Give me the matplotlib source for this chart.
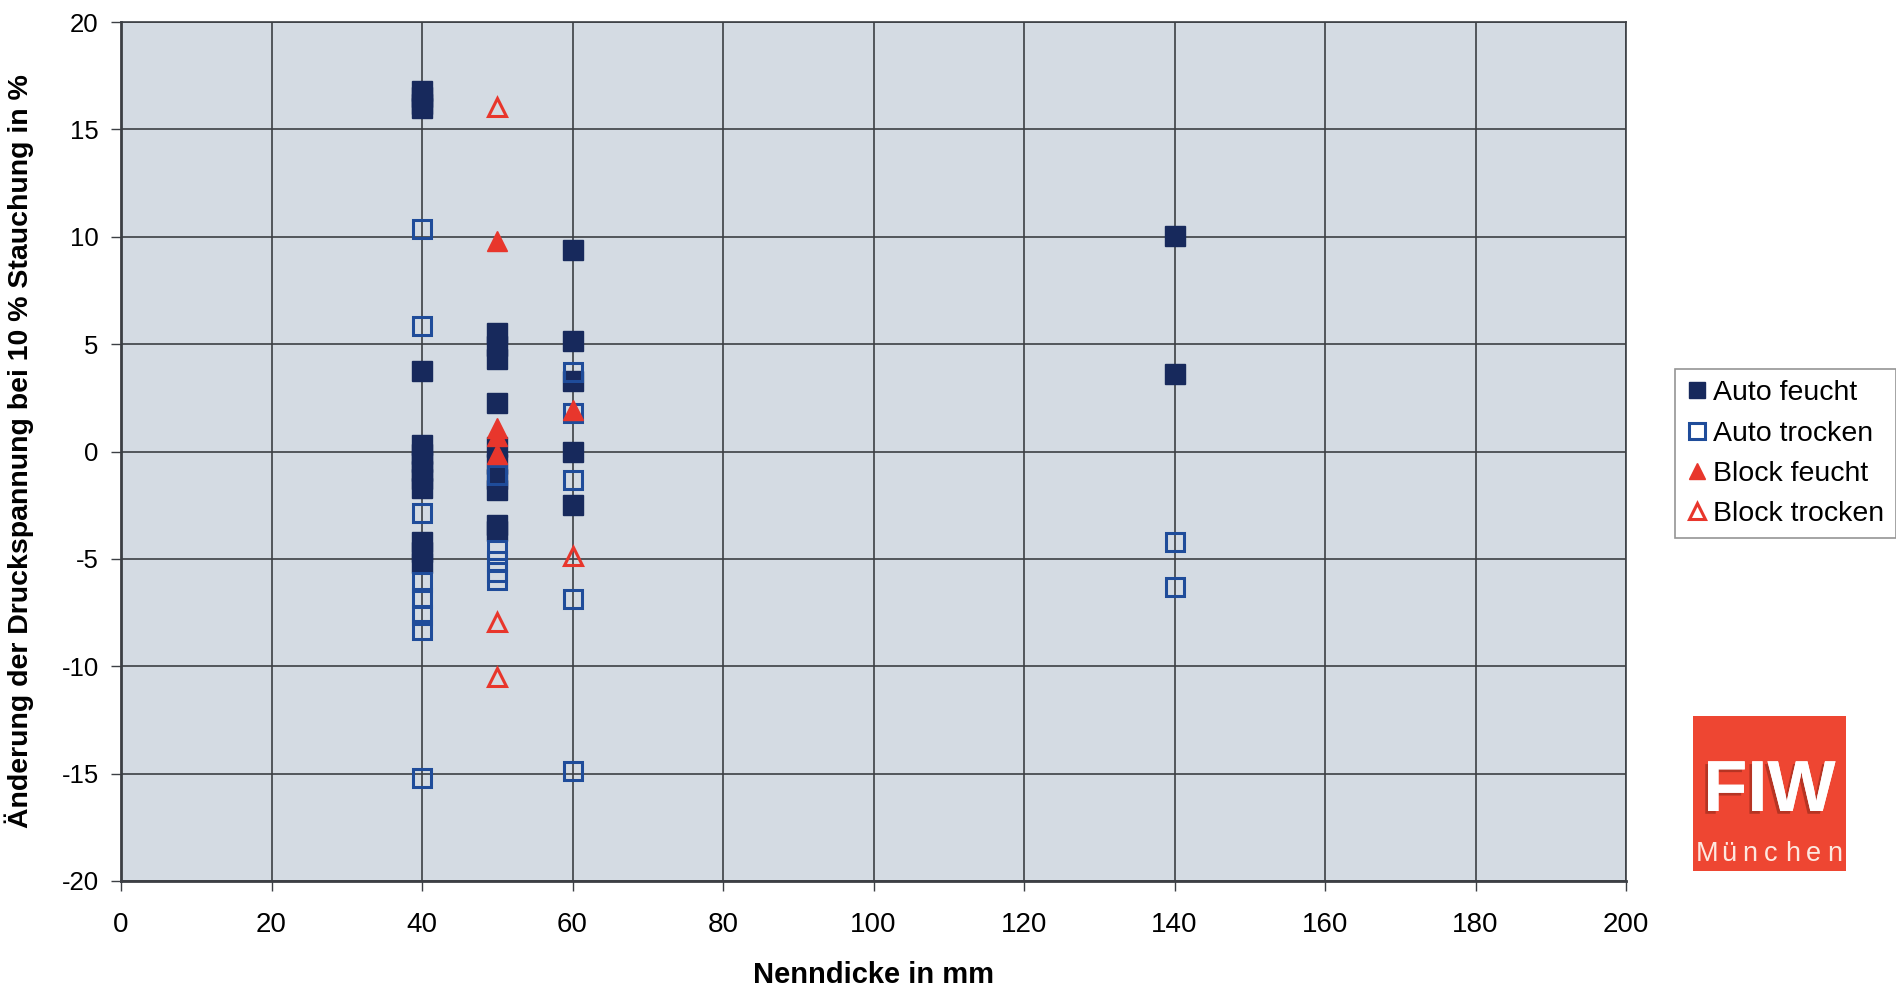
import matplotlib
matplotlib.use("Agg")
import matplotlib.pyplot as plt
from matplotlib.patches import Rectangle
import matplotlib.patheffects as pe

# Nenndicke (mm) and change of compressive stress at 10 % strain (%)
auto_feucht_x = [40, 40, 40, 40, 40, 40, 40, 40, 40, 40, 40, 40, 40, 40,
                 50, 50, 50, 50, 50, 50, 50, 50, 50, 50,
                 60, 60, 60, 60, 60,
                 140, 140]
auto_feucht_y = [16.8, 16.5, 16.2, 16.0, 3.75, 0.3, -0.1, -0.5, -0.9, -1.3, -1.7, -4.2, -4.7, -5.2,
                 5.5, 4.9, 4.3, 2.25, 0.2, -0.6, -1.3, -1.8, -3.4, -3.7,
                 9.4, 5.15, 3.3, 0.0, -2.5,
                 10.05, 3.6]

auto_trocken_x = [40, 40, 40, 40, 40, 40, 40, 40,
                  50, 50, 50, 50, 50,
                  60, 60, 60, 60, 60,
                  140, 140]
auto_trocken_y = [10.35, 5.85, -2.85, -6.1, -6.8, -7.6, -8.3, -15.2,
                  -1.1, -4.6, -5.1, -5.6, -6.0,
                  3.7, 1.8, -1.35, -6.85, -14.9,
                  -4.2, -6.3]

block_feucht_x = [50, 50, 50, 50, 60]
block_feucht_y = [9.8, 1.1, 0.7, -0.1, 1.95]

block_trocken_x = [50, 50, 50, 60]
block_trocken_y = [16.05, -7.95, -10.5, -4.85]

x_ticks = list(range(0, 201, 20))
y_ticks = list(range(-20, 21, 5))

NAVY = "#17295c"
BLUE = "#1f4c9a"
RED = "#e8362c"
GRID = "#3c3f44"
BG = "#d4dbe3"

plt.rcParams["font.family"] = ["Liberation Sans", "DejaVu Sans"]
plt.rcParams["axes.unicode_minus"] = False

fig = plt.figure(figsize=(18.96, 9.89), dpi=100)
ax = fig.add_axes([121 / 1896, 1 - 881 / 989, (1626 - 121) / 1896, (881 - 22) / 989])
ax.set_facecolor(BG)

ax.plot(auto_feucht_x, auto_feucht_y, ls="none", marker="s", ms=14,
        mfc=NAVY, mec=NAVY, mew=1.0, label="Auto feucht", zorder=3)
ax.plot(auto_trocken_x, auto_trocken_y, ls="none", marker="s", ms=13,
        mfc="none", mec=BLUE, mew=2.2, label="Auto trocken", zorder=4)
ax.plot(block_feucht_x, block_feucht_y, ls="none", marker="^", ms=14,
        mfc=RED, mec=RED, mew=1.0, label="Block feucht", zorder=5)
ax.plot(block_trocken_x, block_trocken_y, ls="none", marker="^", ms=13,
        mfc="none", mec=RED, mew=2.2, label="Block trocken", zorder=6)

ax.set_xlim(0, 200)
ax.set_ylim(-20, 20)
ax.set_xticks(x_ticks)
ax.set_yticks(y_ticks)
ax.grid(True, color=GRID, lw=1.2, zorder=1)
ax.set_axisbelow(True)
for s in ax.spines.values():
    s.set_color(GRID)
    s.set_linewidth(1.2)
ax.spines["left"].set_linewidth(2.0)
ax.spines["bottom"].set_linewidth(2.0)

ax.tick_params(axis="both", direction="out", length=7, width=1.0, color=GRID)
ax.tick_params(axis="y", pad=9, labelsize=18.5)
ax.tick_params(axis="x", pad=15, labelsize=20)

ax.set_xlabel("Nenndicke in mm", fontsize=21, fontweight="bold", labelpad=17)
ax.set_ylabel("Änderung der Druckspannung bei 10 % Stauchung in %", fontsize=20.5,
              fontweight="bold")
ax.yaxis.set_label_coords((34 - 121) / (1626 - 121), 0.5)

leg = fig.legend(loc="upper left", bbox_to_anchor=(1675 / 1896, 1 - 369 / 989),
                 frameon=True, fancybox=False, fontsize=20.5, handlelength=0.75,
                 handletextpad=0.2, labelspacing=0.5, borderpad=0.4,
                 borderaxespad=0, markerscale=0.85)
leg.get_frame().set_edgecolor("#7a7a7a")
leg.get_frame().set_linewidth(1.2)

# FIW München logo
x0, y0 = 1693 / 1896, 1 - 871 / 989
w, h = 153 / 1896, 155 / 989
fig.add_artist(Rectangle((x0, y0), w, h, transform=fig.transFigure,
                         facecolor="#ee4632", edgecolor="none"))
fig.text(x0 + w / 2, 1 - 792 / 989, "FIW", color="white", fontsize=52,
         fontweight="bold", ha="center", va="center",
         path_effects=[pe.withSimplePatchShadow(offset=(-2, -2), shadow_rgbFace="#a83020", alpha=0.8),
                       pe.Normal()])
word = "München"
for i, ch in enumerate(word):
    fig.text((1707 + i * 21.3) / 1896, 1 - 854 / 989, ch, color="#fde8e0",
             fontsize=19.5, ha="center", va="center")

fig.savefig("out.png", dpi=100)
